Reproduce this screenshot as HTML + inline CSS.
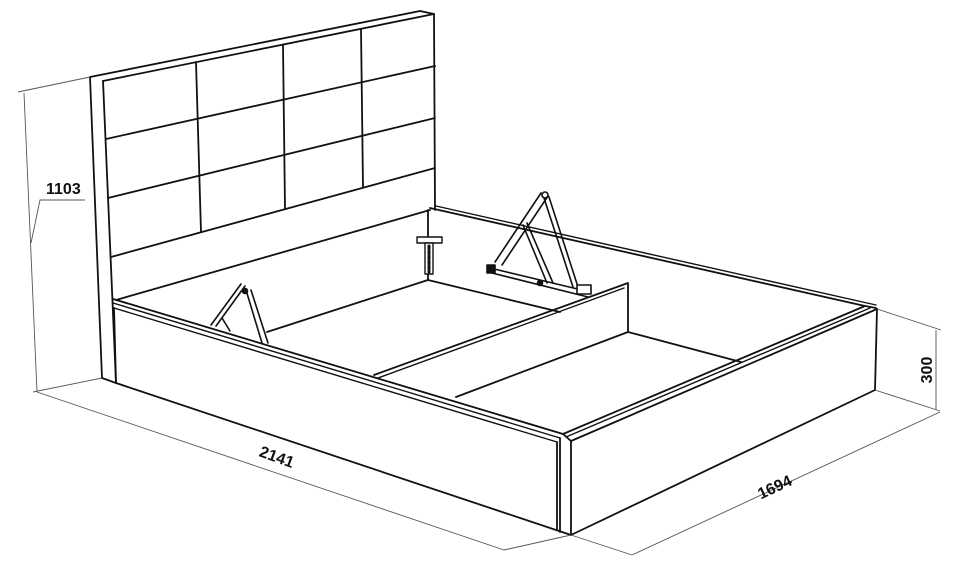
<!DOCTYPE html>
<html><head><meta charset="utf-8"><style>
html,body{margin:0;padding:0;background:#fff;}
svg{display:block;}
text{font-family:"Liberation Sans",sans-serif;font-weight:bold;fill:#111;}
</style></head><body>
<svg width="960" height="569" viewBox="0 0 960 569" xmlns="http://www.w3.org/2000/svg">
<g stroke="#111" stroke-width="1.8" fill="none" stroke-linejoin="round" stroke-linecap="round">
<!-- headboard -->
<polyline points="102,378 90,77 420,11 434,14 435,210"/>
<line x1="103" y1="81" x2="434" y2="14"/>
<line x1="103" y1="81" x2="116" y2="383"/>
<line x1="102" y1="378" x2="116" y2="383"/>
<!-- grid -->
<line x1="196" y1="62" x2="201" y2="232"/>
<line x1="283" y1="45" x2="285" y2="209"/>
<line x1="361" y1="29" x2="363" y2="187"/>
<line x1="106" y1="139" x2="435" y2="66"/>
<line x1="108" y1="198" x2="435" y2="118"/>
<line x1="111" y1="257" x2="435" y2="168"/>
<!-- inner far edges -->
<line x1="116" y1="300" x2="430" y2="210"/>
<line x1="428" y1="210" x2="428" y2="280"/>
<polyline points="430,208 865,306 876,308"/>
<line x1="436" y1="206" x2="876" y2="305" stroke-width="1.4"/>
<!-- floor -->
<line x1="267" y1="332" x2="428" y2="280"/>
<line x1="428" y1="280" x2="560" y2="312"/>
<line x1="628" y1="332" x2="741" y2="362"/>
<line x1="456" y1="397" x2="628" y2="332"/>
<!-- partition -->
<polyline points="374,375 628,283 628,332"/>
<line x1="378" y1="378" x2="624" y2="288" stroke-width="1.4"/>
<!-- left long side -->
<line x1="113" y1="299" x2="563" y2="434"/>
<line x1="113" y1="303" x2="560" y2="438" stroke-width="1.4"/>
<line x1="114" y1="308" x2="557" y2="442" stroke-width="1.4"/>
<line x1="114" y1="308" x2="116" y2="383"/>
<line x1="116" y1="383" x2="571" y2="535"/>
<!-- foot -->
<line x1="557" y1="442" x2="557" y2="530"/>
<line x1="560" y1="438" x2="560" y2="532"/>
<line x1="571" y1="441" x2="571" y2="535"/>
<line x1="563" y1="434" x2="571" y2="441"/>
<line x1="563" y1="434" x2="865" y2="306"/>
<line x1="566" y1="437" x2="870" y2="308" stroke-width="1.4"/>
<line x1="571" y1="441" x2="877" y2="309"/>
<line x1="877" y1="309" x2="875" y2="390"/>
<line x1="571" y1="535" x2="875" y2="390"/>
<!-- left lift mechanism -->
<g stroke-width="1.6">
<line x1="241" y1="284" x2="211" y2="325"/>
<line x1="245" y1="286" x2="216" y2="326"/>
<line x1="246" y1="290" x2="262" y2="343"/>
<line x1="251" y1="290" x2="268" y2="343"/>
<line x1="222" y1="318" x2="230" y2="331"/>
<circle cx="245" cy="291" r="2.5" fill="#111"/>
</g>
<!-- bracket -->
<g stroke-width="1.4">
<rect x="417" y="237" width="25" height="6" fill="#fff"/>
<rect x="425" y="243" width="8" height="31" fill="#fff"/>
<line x1="429" y1="246" x2="429" y2="272" stroke-dasharray="3,2" stroke-width="3"/>
</g>
<!-- right lift mechanism -->
<g stroke-width="1.6">
<line x1="541" y1="193" x2="495" y2="262"/>
<line x1="548" y1="196" x2="502" y2="265"/>
<line x1="523" y1="225" x2="547" y2="283"/>
<line x1="527" y1="223" x2="553" y2="283"/>
<line x1="544" y1="198" x2="573" y2="287"/>
<line x1="549" y1="197" x2="578" y2="287"/>
<line x1="490" y1="268" x2="590" y2="292"/>
<line x1="492" y1="273" x2="588" y2="297"/>
<rect x="487" y="265" width="8" height="8" fill="#111"/>
<rect x="577" y="285" width="14" height="9" fill="#fff"/>
<circle cx="545" cy="195" r="3" fill="#fff"/>
<circle cx="540" cy="283" r="2.5" fill="#111"/>
</g>
</g>
<!-- dimensions -->
<g stroke="#555" stroke-width="0.9" fill="none">
<line x1="90" y1="77" x2="18" y2="92"/>
<line x1="24" y1="93" x2="37" y2="392"/>
<line x1="102" y1="378" x2="33" y2="392"/>
<polyline points="85,200 40,200 31,243"/>
<line x1="37" y1="392" x2="504" y2="550"/>
<line x1="571" y1="535" x2="504" y2="550"/>
<line x1="571" y1="535" x2="632" y2="555"/>
<line x1="632" y1="555" x2="940" y2="412"/>
<line x1="877" y1="309" x2="941" y2="330"/>
<line x1="875" y1="390" x2="940" y2="411"/>
<line x1="936" y1="330" x2="936" y2="410"/>
</g>
<text x="46" y="194" font-size="16">1103</text>
<text transform="translate(275,462) rotate(20)" font-size="16" text-anchor="middle">2141</text>
<text transform="translate(777,492) rotate(-25)" font-size="16" text-anchor="middle">1694</text>
<text transform="translate(932,370) rotate(-90)" font-size="16" text-anchor="middle">300</text>
</svg>
</body></html>
